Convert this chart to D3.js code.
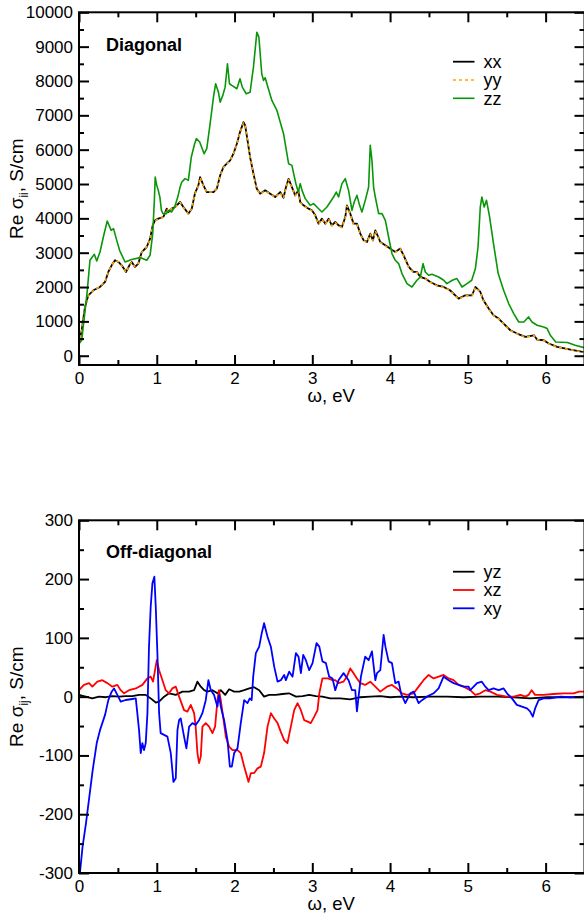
<!DOCTYPE html>
<html>
<head>
<meta charset="utf-8">
<script src="https://cdn.jsdelivr.net/npm/d3@7"></script>
<style>
  body { margin: 0; background: #fff; }
  svg { display: block; font-family: "Liberation Sans", Arial, sans-serif; }
  .tick text { font-size: 17px; fill: #000; }
  .tick line { stroke: #000; stroke-width: 2; }
</style>
</head>
<body>
<svg id="chart" width="584" height="913"></svg>
<script>
// omega (eV) / Re sigma (S/cm)
var xx = [[0,355],[0.035,742],[0.077,1420],[0.12,1760],[0.185,1906],[0.27,2002],[0.335,2148],[0.377,2439],[0.42,2633],[0.463,2779],[0.506,2730],[0.549,2633],[0.605,2439],[0.648,2633],[0.678,2730],[0.72,2585],[0.763,2682],[0.807,3020],[0.871,3166],[0.914,3410],[0.948,3797],[0.978,3942],[1.02,3991],[1.085,4039],[1.128,4282],[1.149,4185],[1.192,4282],[1.235,4330],[1.3,4476],[1.342,4330],[1.406,4137],[1.45,4282],[1.49,4718],[1.535,4960],[1.557,5202],[1.6,4960],[1.643,4766],[1.73,4766],[1.772,4864],[1.815,5252],[1.857,5493],[1.9,5592],[1.944,5688],[1.986,5883],[2.03,6174],[2.07,6511],[2.115,6802],[2.137,6706],[2.167,6270],[2.2,5784],[2.243,5301],[2.286,4864],[2.33,4719],[2.394,4815],[2.458,4719],[2.523,4621],[2.587,4766],[2.63,4600],[2.66,4900],[2.695,5150],[2.738,4911],[2.78,4670],[2.82,4815],[2.845,4476],[2.887,4379],[2.952,4282],[2.995,4233],[3.038,4088],[3.08,3846],[3.124,3992],[3.167,3846],[3.21,3992],[3.25,3797],[3.295,3894],[3.338,3797],[3.381,3748],[3.424,4039],[3.445,4379],[3.488,4137],[3.53,3846],[3.574,3846],[3.617,3555],[3.66,3361],[3.703,3312],[3.745,3555],[3.78,3361],[3.81,3651],[3.839,3506],[3.874,3312],[3.938,3215],[4.0,3119],[4.067,3020],[4.131,3119],[4.174,2924],[4.24,2584],[4.3,2439],[4.346,2439],[4.389,2293],[4.453,2246],[4.517,2148],[4.6,2051],[4.69,2002],[4.77,1906],[4.881,1664],[4.968,1760],[5.054,1760],[5.097,2002],[5.161,1857],[5.2,1615],[5.268,1373],[5.33,1178],[5.396,1082],[5.46,936],[5.547,742],[5.633,646],[5.74,547],[5.85,596],[5.89,471],[5.976,451],[6.04,355],[6.15,256],[6.32,180],[6.5,100]];
var yy = [[0,340],[0.035,730],[0.077,1400],[0.12,1750],[0.185,1900],[0.27,2010],[0.335,2160],[0.377,2430],[0.42,2640],[0.463,2770],[0.506,2740],[0.549,2620],[0.605,2430],[0.648,2640],[0.678,2720],[0.72,2590],[0.763,2690],[0.807,3010],[0.871,3170],[0.914,3400],[0.948,3790],[0.978,3930],[1.02,3980],[1.085,4030],[1.128,4270],[1.149,4180],[1.192,4290],[1.235,4320],[1.3,4460],[1.342,4320],[1.406,4130],[1.45,4290],[1.49,4700],[1.535,4950],[1.557,5190],[1.6,4950],[1.643,4760],[1.73,4770],[1.772,4870],[1.815,5240],[1.857,5480],[1.9,5580],[1.944,5690],[1.986,5870],[2.03,6160],[2.07,6500],[2.115,6780],[2.137,6700],[2.167,6260],[2.2,5770],[2.243,5290],[2.286,4850],[2.33,4710],[2.394,4800],[2.458,4710],[2.523,4610],[2.587,4750],[2.63,4590],[2.66,4890],[2.695,5130],[2.738,4900],[2.78,4660],[2.82,4800],[2.845,4460],[2.887,4370],[2.952,4270],[2.995,4220],[3.038,4070],[3.08,3830],[3.124,3980],[3.167,3830],[3.21,3980],[3.25,3780],[3.295,3880],[3.338,3780],[3.381,3730],[3.424,4020],[3.445,4360],[3.488,4120],[3.53,3830],[3.574,3830],[3.617,3540],[3.66,3350],[3.703,3300],[3.745,3540],[3.78,3350],[3.81,3640],[3.839,3490],[3.874,3300],[3.938,3200],[4.0,3110],[4.067,3010],[4.131,3110],[4.174,2910],[4.24,2570],[4.3,2430],[4.346,2430],[4.389,2280],[4.453,2240],[4.517,2140],[4.6,2040],[4.69,1990],[4.77,1900],[4.881,1650],[4.968,1750],[5.054,1750],[5.097,1990],[5.161,1850],[5.2,1600],[5.268,1360],[5.33,1170],[5.396,1070],[5.46,930],[5.547,735],[5.633,640],[5.74,540],[5.85,590],[5.89,465],[5.976,445],[6.04,350],[6.15,250],[6.32,175],[6.5,95]];
var zz = [[0,350],[0.035,451],[0.107,1906],[0.141,2779],[0.197,2953],[0.228,2758],[0.27,3020],[0.313,3457],[0.363,3922],[0.414,3651],[0.444,3700],[0.479,3410],[0.522,3070],[0.592,2730],[0.678,2800],[0.785,2857],[0.871,2779],[0.914,2924],[0.948,3555],[0.969,4524],[0.98,5203],[1.0,4960],[1.02,4815],[1.04,4620],[1.06,4233],[1.08,4137],[1.12,4137],[1.16,4233],[1.19,4185],[1.23,4330],[1.27,4620],[1.3,4911],[1.322,5057],[1.364,5156],[1.406,5106],[1.444,5785],[1.487,6174],[1.509,6320],[1.552,6222],[1.609,5883],[1.643,6029],[1.686,6756],[1.729,7530],[1.757,7920],[1.793,7675],[1.815,7384],[1.849,7580],[1.879,7821],[1.909,8502],[1.935,7920],[1.965,7870],[2.03,7774],[2.07,8065],[2.1,7821],[2.15,7628],[2.2,7675],[2.243,8403],[2.287,9421],[2.313,9276],[2.35,8211],[2.373,8016],[2.394,8094],[2.416,7920],[2.48,7434],[2.545,7143],[2.63,6465],[2.695,5592],[2.738,5543],[2.76,5300],[2.79,5000],[2.82,4766],[2.845,5010],[2.87,4800],[2.909,4574],[2.973,4379],[3.016,4428],[3.059,4330],[3.124,4185],[3.188,4330],[3.274,4621],[3.308,4766],[3.338,4621],[3.381,5010],[3.424,5155],[3.466,4815],[3.51,4233],[3.539,4476],[3.574,4670],[3.608,4379],[3.638,4185],[3.681,4524],[3.724,4911],[3.745,6125],[3.767,5688],[3.788,4911],[3.81,4621],[3.853,4137],[3.896,4137],[3.939,3942],[3.981,3457],[4.024,2973],[4.067,2779],[4.11,2682],[4.153,2391],[4.217,2100],[4.281,2002],[4.346,2197],[4.389,2293],[4.424,2682],[4.453,2439],[4.496,2342],[4.539,2371],[4.569,2342],[4.625,2293],[4.69,2197],[4.73,2100],[4.8,2197],[4.86,2246],[4.925,2002],[4.99,2100],[5.05,2197],[5.097,2537],[5.131,3166],[5.16,4330],[5.18,4621],[5.21,4330],[5.24,4524],[5.28,4039],[5.33,3264],[5.39,2391],[5.46,1906],[5.525,1519],[5.59,1228],[5.654,983],[5.72,983],[5.78,1130],[5.825,983],[5.89,887],[5.975,838],[6.02,791],[6.06,596],[6.13,401],[6.28,384],[6.38,306],[6.5,230]];

var yz = [[0,3],[0.086,0],[0.17,-3],[0.257,0],[0.343,-1],[0.43,1],[0.515,0],[0.6,1],[0.686,1],[0.772,3],[0.858,3],[0.922,-3],[0.987,-10],[1.03,-8.5],[1.094,0],[1.158,5.7],[1.244,3],[1.33,8.5],[1.416,8.5],[1.48,11],[1.523,25.5],[1.566,17],[1.609,11],[1.652,8.5],[1.716,11],[1.78,5.7],[1.823,11],[1.88,3],[1.93,12.5],[1.995,8.5],[2.06,8.5],[2.124,11],[2.19,14],[2.252,16],[2.317,11],[2.38,0],[2.445,3],[2.53,3],[2.617,4.5],[2.7,5.7],[2.79,0],[2.874,1],[2.96,3],[3.046,1],[3.13,0],[3.23,-3],[3.36,-3],[3.488,-4.5],[3.617,-1],[3.745,0],[3.874,1],[4.0,-1],[4.13,0],[4.3,-1],[4.517,0],[4.73,0],[4.946,-1],[5.16,0],[5.375,0],[5.59,-1],[5.8,-3],[6.02,-1],[6.23,-1],[6.5,-1]];
var xz = [[0,11],[0.064,20],[0.129,23],[0.172,17],[0.236,25.5],[0.3,28],[0.365,23],[0.429,17],[0.493,20],[0.536,11],[0.579,5.7],[0.644,11],[0.73,14],[0.815,20],[0.88,31],[0.922,34],[0.952,25.5],[0.978,45],[1.0,62],[1.03,45],[1.073,28],[1.115,11],[1.158,5.7],[1.2,14],[1.244,17],[1.287,0],[1.351,-23],[1.394,-25.5],[1.437,-14],[1.48,-28],[1.5,-51],[1.523,-96],[1.544,-113],[1.566,-102],[1.587,-51],[1.63,-45],[1.673,-51],[1.716,-62],[1.75,-51],[1.78,-6],[1.8,11],[1.823,-6],[1.853,-34],[1.888,-68],[1.93,-85],[1.973,-91],[2.038,-91],[2.08,-96],[2.124,-119],[2.18,-145],[2.21,-130],[2.252,-130],[2.295,-122],[2.338,-119],[2.38,-96],[2.424,-51],[2.467,-28],[2.51,-37],[2.553,-45],[2.595,-60],[2.638,-74],[2.68,-79],[2.724,-51],[2.767,-23],[2.81,-11],[2.853,-23],[2.896,-40],[2.94,-42.5],[2.98,-45],[3.025,-34],[3.067,-23],[3.09,5.7],[3.13,31],[3.2,31],[3.26,28],[3.295,28],[3.337,23],[3.4,25.5],[3.445,34],[3.488,48],[3.53,40],[3.574,31],[3.617,23],[3.68,20],[3.745,25.5],[3.81,17],[3.874,8.5],[3.96,17],[4.024,20],[4.088,14],[4.153,5.7],[4.217,3],[4.303,5.7],[4.367,17],[4.43,28],[4.496,37],[4.56,31],[4.624,34],[4.688,37],[4.753,31],[4.817,28],[4.882,20],[4.946,17],[5.03,11],[5.095,3],[5.16,5.7],[5.225,11],[5.29,8.5],[5.375,3],[5.503,0],[5.59,0],[5.675,3],[5.74,0],[5.78,3],[5.82,11],[5.865,3],[5.973,3],[6.1,4.5],[6.23,5.7],[6.36,5.7],[6.43,8.5],[6.5,8.5]];
var xy = [[0,-300],[0.013,-298],[0.046,-255],[0.09,-215],[0.133,-170],[0.176,-125],[0.228,-79],[0.27,-57],[0.335,-31],[0.377,-6],[0.42,8.5],[0.45,14],[0.493,3],[0.536,-8.5],[0.6,-5.7],[0.686,-4],[0.73,-3],[0.75,-28],[0.772,-57],[0.794,-96],[0.815,-79],[0.836,-91],[0.858,-79],[0.88,-28],[0.9,85],[0.922,153],[0.944,193],[0.969,204],[0.987,153],[1.008,74],[1.03,-28],[1.05,-62],[1.094,-65],[1.137,-68],[1.18,-96],[1.214,-145],[1.244,-139],[1.266,-57],[1.287,-40],[1.308,-37],[1.351,-68],[1.381,-88],[1.416,-51],[1.459,-45],[1.5,-48],[1.544,-40],[1.587,-28],[1.63,-6],[1.664,28],[1.695,11],[1.737,3],[1.78,-17],[1.8,3],[1.823,-17],[1.866,-40],[1.909,-74],[1.94,-119],[1.965,-119],[1.995,-96],[2.038,-88],[2.08,-45],[2.124,-6],[2.166,-11],[2.196,-3],[2.22,-6],[2.24,34],[2.274,74],[2.317,85],[2.35,108],[2.38,125],[2.424,102],[2.467,85],[2.51,51],[2.553,25.5],[2.595,28],[2.638,37],[2.66,28],[2.703,42.5],[2.746,34],[2.789,74],[2.823,68],[2.853,40],[2.883,71],[2.917,62],[2.96,45],[3.003,57],[3.054,91],[3.09,85],[3.13,60],[3.175,57],[3.217,34],[3.26,31],[3.295,11],[3.337,28],[3.402,40],[3.466,28],[3.51,11],[3.552,11],[3.574,-25],[3.595,0],[3.625,34],[3.68,68],[3.724,62],[3.767,77],[3.81,28],[3.832,40],[3.874,45],[3.917,105],[3.94,85],[3.981,60],[4.024,57],[4.067,23],[4.11,25.5],[4.14,5.7],[4.196,-11],[4.26,5.7],[4.303,8.5],[4.367,-11],[4.41,-6],[4.474,0],[4.56,5.7],[4.624,14],[4.688,34],[4.753,28],[4.817,23],[4.882,20],[4.946,17],[5.01,17],[5.03,11],[5.075,17],[5.118,23],[5.18,25.5],[5.225,17],[5.268,11],[5.33,14],[5.396,11],[5.46,14],[5.503,5.7],[5.567,-3],[5.63,-14],[5.696,-17],[5.76,-20],[5.8,-25],[5.835,-34],[5.865,-20],[5.91,-6],[5.973,-3],[6.06,-3],[6.19,0],[6.32,-1],[6.5,0]];

var xTicks = [0, 1, 2, 3, 4, 5, 6];
var diagTicks = [0, 1000, 2000, 3000, 4000, 5000, 6000, 7000, 8000, 9000, 10000];
var offTicks = [-300, -200, -100, 0, 100, 200, 300];

var svg = d3.select("#chart");
var left = 79, right = 584.5;

// plain hyphen for negatives, like the original plot
var fmt = function(d) { return String(d); };

function drawPanel(p) {
  var width = right - left;
  var height = p.bottom - p.top;

  var xScale = d3.scaleLinear().domain([0, 6.5]).range([0, width]);
  var yScale = d3.scaleLinear().domain(p.domain).range([height, 0]);

  var g = svg.append("g").attr("transform", "translate(" + left + "," + p.top + ")");

  g.append("clipPath").attr("id", p.id + "clip")
    .append("rect").attr("width", width).attr("height", height);

  // lines
  var line = d3.line()
    .x(function(d) { return xScale(d[0]); })
    .y(function(d) { return yScale(d[1]); });

  var plot = g.append("g").attr("clip-path", "url(#" + p.id + "clip)");
  p.series.forEach(function(s) {
    plot.append("path")
      .datum(s.data)
      .attr("fill", "none")
      .attr("stroke", s.color)
      .attr("stroke-width", s.w)
      .attr("stroke-dasharray", s.dash || null)
      .attr("stroke-linejoin", "round")
      .attr("d", line);
  });

  // minor ticks
  var xMinor = d3.range(0.5, 6.5, 1);
  var yMinor = d3.range(p.minor / 2 * 0 + Math.ceil(p.domain[0] / p.minor) * p.minor, p.domain[1], p.minor)
    .filter(function(v) { return v % p.major != 0; });

  g.append("g").attr("transform", "translate(0," + height + ")")
    .call(d3.axisBottom(xScale).tickValues(xMinor).tickSize(-5).tickSizeOuter(0).tickFormat(""));
  g.append("g")
    .call(d3.axisTop(xScale).tickValues(xMinor).tickSize(-5).tickSizeOuter(0).tickFormat(""));
  g.append("g")
    .call(d3.axisLeft(yScale).tickValues(yMinor).tickSize(-5).tickSizeOuter(0).tickFormat(""));
  g.append("g").attr("transform", "translate(" + width + ",0)")
    .call(d3.axisRight(yScale).tickValues(yMinor).tickSize(-5).tickSizeOuter(0).tickFormat(""));

  // major ticks
  g.append("g").attr("transform", "translate(0," + height + ")")
    .call(d3.axisBottom(xScale).tickValues(xTicks).tickSize(-10).tickSizeOuter(0).tickPadding(7).tickFormat(fmt));
  g.append("g")
    .call(d3.axisTop(xScale).tickValues(xTicks).tickSize(-10).tickSizeOuter(0).tickFormat(""));
  g.append("g")
    .call(d3.axisLeft(yScale).tickValues(p.ticks).tickSize(-10).tickSizeOuter(0).tickPadding(6).tickFormat(fmt));
  g.append("g").attr("transform", "translate(" + width + ",0)")
    .call(d3.axisRight(yScale).tickValues(p.ticks).tickSize(-10).tickSizeOuter(0).tickFormat(""));

  g.selectAll(".domain").remove();
  g.selectAll(".tick text").attr("font-family", null).attr("font-size", null);

  g.append("rect")
    .attr("width", width).attr("height", height)
    .attr("fill", "none").attr("stroke", "#000").attr("stroke-width", 2);

  // title
  g.append("text")
    .attr("x", 27).attr("y", p.titleY)
    .attr("font-size", 18).attr("font-weight", "bold")
    .text(p.title);

  // legend
  p.series.forEach(function(s, i) {
    var ly = p.legendY + i * 18.3;
    g.append("line")
      .attr("x1", 374).attr("x2", 395.5)
      .attr("y1", ly).attr("y2", ly)
      .attr("stroke", s.color).attr("stroke-width", s.w)
      .attr("stroke-dasharray", s.dash || null);
    g.append("text")
      .attr("x", 404.5).attr("y", ly + 6.3)
      .attr("font-size", 18)
      .text(s.name);
  });

  // axis labels
  g.append("text")
    .attr("x", width / 2 - 0.5).attr("y", height + 37)
    .attr("text-anchor", "middle")
    .attr("font-size", 18.5)
    .text("ω, eV");

  var yl = g.append("text")
    .attr("transform", "translate(-56," + (height / 2) + ") rotate(-90)")
    .attr("text-anchor", "middle")
    .attr("font-size", 19);
  yl.append("tspan").text("Re σ");
  yl.append("tspan").attr("font-size", 12).attr("dy", 5).text(p.sub);
  yl.append("tspan").attr("dy", -5).text(", S/cm");
}

drawPanel({
  id: "diag", top: 12.3, bottom: 365, domain: [-270, 10000],
  ticks: diagTicks, major: 1000, minor: 500,
  title: "Diagonal", titleY: 38.7, legendY: 49.4, sub: "ii",
  series: [
    {name: "xx", data: xx, color: "#000", w: 1.8},
    {name: "yy", data: yy, color: "#ffa500", w: 1.6, dash: "3,3"},
    {name: "zz", data: zz, color: "#0a960a", w: 1.6}
  ]
});

drawPanel({
  id: "off", top: 520.3, bottom: 873, domain: [-300, 300],
  ticks: offTicks, major: 100, minor: 50,
  title: "Off-diagonal", titleY: 38, legendY: 51.4, sub: "ij",
  series: [
    {name: "yz", data: yz, color: "#000", w: 1.8},
    {name: "xz", data: xz, color: "#ff0000", w: 1.8},
    {name: "xy", data: xy, color: "#0000ff", w: 1.8}
  ]
});
</script>
</body>
</html>
